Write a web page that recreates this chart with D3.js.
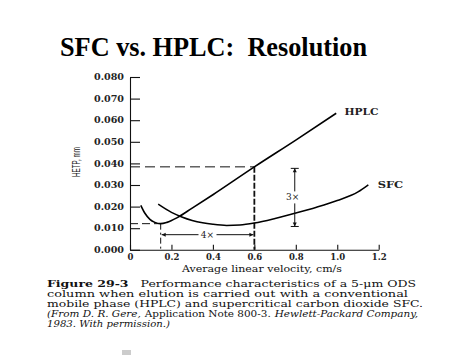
<!DOCTYPE html>
<html><head><meta charset="utf-8">
<script src="https://cdn.jsdelivr.net/npm/d3@7/dist/d3.min.js"></script>
<style>body{margin:0;background:#fff;}svg{display:block;}</style>
</head><body>
<svg id="c" width="474" height="355"></svg>
<script>
// ---- data ----
const xTicks = [0, 0.2, 0.4, 0.6, 0.8, 1.0, 1.2];
const yTicks = [0, 0.01, 0.02, 0.03, 0.04, 0.05, 0.06, 0.07, 0.08];
const hplcV = [0.052, 0.072, 0.096, 0.12, 0.148, 0.178, 0.228, 0.3, 0.4, 0.6, 0.8, 0.995];
const hplcH = [0.0206, 0.0169, 0.0141, 0.0127, 0.0121, 0.0127, 0.0149, 0.0193, 0.0255, 0.0384, 0.0508, 0.0632];
const sfcV = [0.136, 0.2, 0.25, 0.3, 0.35, 0.4, 0.466, 0.53, 0.6, 0.7, 0.8, 0.9, 1.0, 1.1, 1.15];
const sfcH = [0.0211, 0.0173, 0.0152, 0.0136, 0.0125, 0.0118, 0.0113, 0.0115, 0.0124, 0.0145, 0.0170, 0.0197, 0.0228, 0.0268, 0.0301];
const hplcMin = {v: 0.148, h: 0.0121};
const hplcAt06 = {v: 0.6, h: 0.0384};
const arrow4 = {v0: 0.148, v1: 0.6, h: 0.007, label: "4×"};
const arrow3 = {v: 0.795, h0: 0.0108, h1: 0.0377, label: "3×"};
const seriesLabels = [{name: "HPLC", v: 1.035, h: 0.0638}, {name: "SFC", v: 1.195, h: 0.0298}];
const titleText = "SFC vs. HPLC:\u00a0\u00a0Resolution";
const xLabel = "Average linear velocity, cm/s";
const yLabel = "HETP, mm";

const svg = d3.select("#c");
const x = d3.scaleLinear().domain([0, 1.2]).range([130, 378.7]);
const y = d3.scaleLinear().domain([0, 0.08]).range([249.8, 77]);
const serif = "'DejaVu Serif', serif";

// title
svg.append("text").attr("x", 60).attr("y", 56)
  .attr("font-family", "'Liberation Serif','Times New Roman',serif")
  .attr("font-weight", "bold").attr("font-size", 27)
  .attr("textLength", 307).attr("lengthAdjust", "spacingAndGlyphs")
  .text(titleText);

// axes
const yAx = svg.append("g").attr("transform", "translate(130,0)")
  .call(d3.axisLeft(y).tickValues(yTicks).tickSizeInner(-10).tickSizeOuter(0)
    .tickPadding(6).tickFormat(d3.format(".3f")));
const xAx = svg.append("g").attr("transform", "translate(0,249.8)")
  .call(d3.axisBottom(x).tickValues(xTicks).tickSizeInner(-5).tickSizeOuter(0)
    .tickPadding(4).tickFormat(d => d === 0 ? "0" : d3.format(".1f")(d)));
[yAx, xAx].forEach(g => {
  g.selectAll("path,line").attr("stroke", "#111").attr("stroke-width", 1.1);
  g.selectAll("text").attr("font-family", serif).attr("font-size", 8.5)
    .attr("font-weight", "bold").attr("fill", "#222");
});
yAx.selectAll("text").attr("textLength", 30).attr("lengthAdjust", "spacingAndGlyphs");
xAx.selectAll("text").attr("dy", "0.71em");

// axis labels
svg.append("text").attr("x", 262).attr("y", 272).attr("text-anchor", "middle")
  .attr("font-family", serif).attr("font-size", 9.5).attr("fill", "#111")
  .attr("textLength", 160).attr("lengthAdjust", "spacingAndGlyphs").text(xLabel);
svg.append("text").attr("transform", "translate(80,162) rotate(-90)")
  .attr("text-anchor", "middle").attr("font-family", "'Liberation Sans Narrow','Liberation Sans',sans-serif")
  .attr("font-size", 11).attr("fill", "#222")
  .attr("textLength", 30).attr("lengthAdjust", "spacingAndGlyphs").text(yLabel);

// dashed guides
const dash = (x1, y1, x2, y2, da, w) => svg.append("line")
  .attr("x1", x1).attr("y1", y1).attr("x2", x2).attr("y2", y2)
  .attr("stroke", "#111").attr("stroke-width", w).attr("stroke-dasharray", da);
dash(x(0), y(hplcMin.h), x(hplcMin.v), y(hplcMin.h), "8,4", 1);
dash(x(hplcMin.v), y(hplcMin.h), x(hplcMin.v), y(0), "6,3,2,3", 1);
dash(x(0), y(hplcAt06.h), x(hplcAt06.v), y(hplcAt06.h), "10,5", 1);
dash(x(hplcAt06.v), y(hplcAt06.h), x(hplcAt06.v), y(0), "6,2", 1.8);

// curves
const line = d3.line().x(d => x(d[0])).y(d => y(d[1])).curve(d3.curveMonotoneX);
svg.append("path").datum(hplcV.map((v, i) => [v, hplcH[i]])).attr("d", line)
  .attr("fill", "none").attr("stroke", "#000").attr("stroke-width", 1.6);
svg.append("path").datum(sfcV.map((v, i) => [v, sfcH[i]])).attr("d", line)
  .attr("fill", "none").attr("stroke", "#000").attr("stroke-width", 1.5);

// arrowheads
const head = (px, py, dir) => {
  const s = 4, w = 2;
  let pts;
  if (dir === 'l') pts = [[px, py], [px + s, py - w], [px + s, py + w]];
  if (dir === 'r') pts = [[px, py], [px - s, py - w], [px - s, py + w]];
  if (dir === 'u') pts = [[px, py], [px - w, py + s], [px + w, py + s]];
  if (dir === 'd') pts = [[px, py], [px - w, py - s], [px + w, py - s]];
  svg.append("polygon").attr("points", pts.map(p => p.join(",")).join(" ")).attr("fill", "#111");
};
// 4x arrow
{
  const ay = y(arrow4.h), x0 = x(arrow4.v0) + 1, x1 = x(arrow4.v1) - 1, xm = (x0 + x1) / 2;
  svg.append("line").attr("x1", x0).attr("x2", xm - 9).attr("y1", ay).attr("y2", ay).attr("stroke", "#111");
  svg.append("line").attr("x1", xm + 9).attr("x2", x1).attr("y1", ay).attr("y2", ay).attr("stroke", "#111");
  head(x0, ay, 'l'); head(x1, ay, 'r');
  svg.append("text").attr("x", xm).attr("y", ay + 3).attr("text-anchor", "middle")
    .attr("font-family", serif).attr("font-size", 9).attr("fill", "#222").text(arrow4.label);
}
// 3x arrow
{
  const ax = x(arrow3.v), y0 = y(arrow3.h0), y1 = y(arrow3.h1), ym = (y0 + y1) / 2;
  svg.append("line").attr("x1", ax).attr("x2", ax).attr("y1", y1).attr("y2", ym - 6).attr("stroke", "#111");
  svg.append("line").attr("x1", ax).attr("x2", ax).attr("y1", ym + 6).attr("y2", y0).attr("stroke", "#111");
  svg.append("line").attr("x1", ax - 4).attr("x2", ax + 4).attr("y1", y1).attr("y2", y1).attr("stroke", "#111");
  svg.append("line").attr("x1", ax - 4).attr("x2", ax + 4).attr("y1", y0).attr("y2", y0).attr("stroke", "#111");
  head(ax, y1, 'u'); head(ax, y0, 'd');
  svg.append("text").attr("x", ax - 2).attr("y", ym + 3).attr("text-anchor", "middle")
    .attr("font-family", serif).attr("font-size", 9).attr("fill", "#222").text(arrow3.label);
}
// series labels
seriesLabels.forEach(d => {
  svg.append("text").attr("x", x(d.v)).attr("y", y(d.h) + 3)
    .attr("font-family", serif).attr("font-size", 8.5).attr("font-weight", "bold").attr("fill", "#222")
    .attr("textLength", d.name.length * 8.5).attr("lengthAdjust", "spacingAndGlyphs").text(d.name);
});

// caption: each styled part is its own text, scaled so the line fits its width
const capLines = [
  {y: 287, len: 369, parts: [["Figure 29-3", "bold", "normal"], ["Performance characteristics of a 5-\u03bcm ODS", "normal", "normal"]], gaps: [12]},
  {y: 297, len: 361, parts: [["column when elution is carried out with a conventional", "normal", "normal"]], gaps: []},
  {y: 307, len: 376, parts: [["mobile phase (HPLC) and supercritical carbon dioxide SFC.", "normal", "normal"]], gaps: []},
  {y: 317, len: 371, parts: [["(From D. R. Gere,", "normal", "italic"], ["Application Note 800-3.", "normal", "normal"], ["Hewlett-Packard Company,", "normal", "italic"]], gaps: [4, 4]},
  {y: 327, len: 123, parts: [["1983. With permission.)", "normal", "italic"]], gaps: []}
];
capLines.forEach(l => {
  const nodes = l.parts.map(p => svg.append("text").attr("y", l.y)
    .attr("font-family", serif).attr("font-size", 9.5).attr("fill", "#111")
    .attr("font-weight", p[1]).attr("font-style", p[2]).text(p[0]));
  const widths = nodes.map(n => n.node().getComputedTextLength());
  const gapSum = d3.sum(l.gaps);
  const k = (l.len - gapSum) / d3.sum(widths);
  let cx = 47;
  nodes.forEach((n, i) => {
    const w = widths[i] * k;
    n.attr("x", cx).attr("textLength", w).attr("lengthAdjust", "spacingAndGlyphs");
    cx += w + (l.gaps[i] || 0);
  });
});
// small scan artifact
svg.append("rect").attr("x", 122).attr("y", 350).attr("width", 9).attr("height", 5).attr("fill", "#ccc");
</script>
</body></html>
